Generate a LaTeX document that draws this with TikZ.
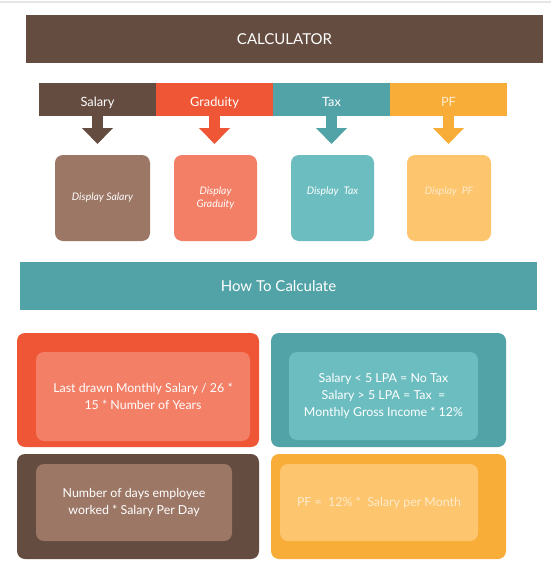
\documentclass[tikz,border=0pt]{standalone}
\usepackage{fontspec}
\setmainfont{Lato}
\usetikzlibrary{positioning,calc,arrows.meta}
\definecolor{brownD}{HTML}{654C40}
\definecolor{brownL}{HTML}{9C7766}
\definecolor{redD}{HTML}{EF5636}
\definecolor{redL}{HTML}{F27F66}
\definecolor{tealD}{HTML}{52A3A7}
\definecolor{tealL}{HTML}{6CBDC0}
\definecolor{ambD}{HTML}{F9AD39}
\definecolor{ambL}{HTML}{FDC56E}
\newcommand{\lowlabel}[1]{\raisebox{-7pt}[0pt][0pt]{#1}}
\newcommand{\highlabel}[1]{\raisebox{3.5pt}[0pt][0pt]{#1}}

\begin{document}
\begin{tikzpicture}[x=1pt,y=-1pt,every node/.style={block},
				block/.style={outer sep=0pt,inner sep=0pt,rectangle,text=white,node distance=0pt},
				bar/.style={minimum width=517pt,minimum height=48pt,font=\fontsize{15}{18}\selectfont},
				cat/.style={minimum width=117pt,minimum height=33pt,font=\fontsize{12.8}{15}\selectfont},
				disp/.style={minimum height=86pt,rounded corners=8pt,align=center,font=\fontsize{10.4}{13}\selectfont\itshape},
				card/.style={rounded corners=8pt},
				rule/.style={rounded corners=8pt,align=center,font=\fontsize{12.4}{17}\selectfont},
				fat/.style={line width=11pt,-{Triangle[width=30pt,length=16pt]}}]
				\path[fill=white,use as bounding box] (0,0) rectangle (551,570);
				\draw[line width=1.5pt,black!10] (0,2) -- (551,2);

				\node (TITLE) [bar,fill=brownD] at (284.5,39)  {CALCULATOR};

				\node (SAL)   [cat,fill=brownD] at (97.5,99.5) {\lowlabel{Salary}};
				\node (GRA)   [cat,fill=redD,right=of SAL]     {\lowlabel{Graduity}};
				\node (TAX)   [cat,fill=tealD,right=of GRA]    {\lowlabel{Tax}};
				\node (PF)    [cat,fill=ambD,right=of TAX,text=white!75!ambD] {\lowlabel{PF}};

				\node (DSAL)  [disp,fill=brownL,minimum width=95pt] at (102.5,198) {Display Salary};
				\node (DGRA)  [disp,fill=redL,minimum width=83pt]   at (215.5,198) {Display\\Graduity};
				\node (DTAX)  [disp,fill=tealL,minimum width=83pt]  at (332.5,198) {\highlabel{Display\ \ Tax}};
				\node (DPF)   [disp,fill=ambL,minimum width=84pt,text=white!65!ambL] at (449,198) {\highlabel{Display\ \ PF}};

				\draw[fat,brownD] (SAL.south) -- ($(SAL.south |- DSAL.north)+(0,-11)$);
				\draw[fat,redD]   (GRA.south) -- ($(GRA.south |- DGRA.north)+(0,-11)$);
				\draw[fat,tealD]  (TAX.south) -- ($(TAX.south |- DTAX.north)+(0,-11)$);
				\draw[fat,ambD]   (PF.south)  -- ($(PF.south |- DPF.north)+(0,-11)$);

				\node (HOW)   [bar,fill=tealD] at (278.5,286) {How To Calculate};

				% formula cards
				\node (GRAOUT) [card,fill=redD,minimum width=242pt,minimum height=114pt]   at (138,390)     {};
				\node (TAXOUT) [card,fill=tealD,minimum width=235pt,minimum height=114pt]  at (388.5,390)   {};
				\node (SALOUT) [card,fill=brownD,minimum width=242pt,minimum height=105pt] at (138,506.5)   {};
				\node (PFOUT)  [card,fill=ambD,minimum width=235pt,minimum height=105pt]   at (388.5,506.5) {};

				\node (GRAIN)  [rule,fill=redL,minimum width=214pt,minimum height=89pt]   at (143,396.5) {Last drawn Monthly Salary / 26 *\\15 * Number of Years};
				\node (TAXIN)  [rule,fill=tealL,minimum width=189pt,minimum height=88pt]  at (383.5,396) {Salary < 5 LPA = No Tax\\Salary > 5 LPA = Tax\ \ =\\Monthly Gross Income * 12\%};
				\node (SALIN)  [rule,fill=brownL,minimum width=196pt,minimum height=77pt] at (134,502.5) {Number of days employee\\worked * Salary Per Day};
				\node (PFIN)   [rule,fill=ambL,minimum width=198pt,minimum height=77pt,text=white!65!ambL] at (379,502.5) {PF =\ \ 12\% *\ \ Salary per Month};
			\end{tikzpicture}
\end{document}
